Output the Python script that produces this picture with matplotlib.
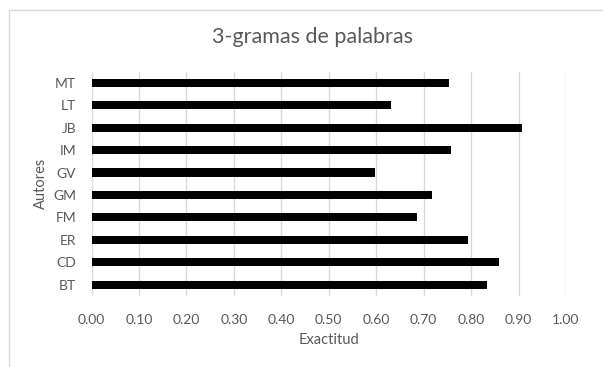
import matplotlib
matplotlib.use("Agg")
import matplotlib.pyplot as plt
from matplotlib.lines import Line2D

authors = ["BT", "CD", "ER", "FM", "GM", "GV", "IM", "JB", "LT", "MT"]
accuracy = [0.834, 0.858, 0.793, 0.687, 0.717, 0.597, 0.758, 0.908, 0.631, 0.754]
xticks = [0.0, 0.1, 0.2, 0.3, 0.4, 0.5, 0.6, 0.7, 0.8, 0.9, 1.0]

plt.rcParams['font.family'] = ['Lato', 'DejaVu Sans']
txt = '#595959'
W, H = 603, 367
fig = plt.figure(figsize=(W/100, H/100), dpi=100)
ax = fig.add_axes([91.5/W, 1-296/H, (566-91.5)/W, (296-71.5)/H])

ax.barh(range(len(authors)), accuracy, height=0.36, color='black', zorder=3)
ax.set_xlim(0, 1.0)
ax.set_ylim(-0.5, len(authors)-0.5)
ax.set_xticks(xticks)
ax.set_xticklabels([f"{v:.2f}" for v in xticks])
ax.set_yticks(range(len(authors)))
ax.set_yticklabels(authors)
ax.grid(axis='x', color='#d9d9d9', linewidth=1.0, zorder=0)
ax.tick_params(axis='both', length=0, labelsize=10, labelcolor=txt)
ax.tick_params(axis='x', pad=13)
ax.tick_params(axis='y', pad=11)
for s in ax.spines.values():
    s.set_visible(False)
ax.set_xlabel("Exactitud", fontsize=10.5, color=txt, labelpad=5)
ax.set_ylabel("Autores", fontsize=10.5, color=txt, labelpad=4)

fig.text(312/W, 1-37/H, "3-gramas de palabras", ha='center', va='center', fontsize=15.5, color=txt)

fig.add_artist(Line2D([9/W, 1], [1-10/H, 1-10/H], transform=fig.transFigure, color='#d9d9d9', lw=1))
fig.add_artist(Line2D([9/W, 9/W], [0, 1-10/H], transform=fig.transFigure, color='#d9d9d9', lw=1))

fig.savefig("out.png", dpi=100)
